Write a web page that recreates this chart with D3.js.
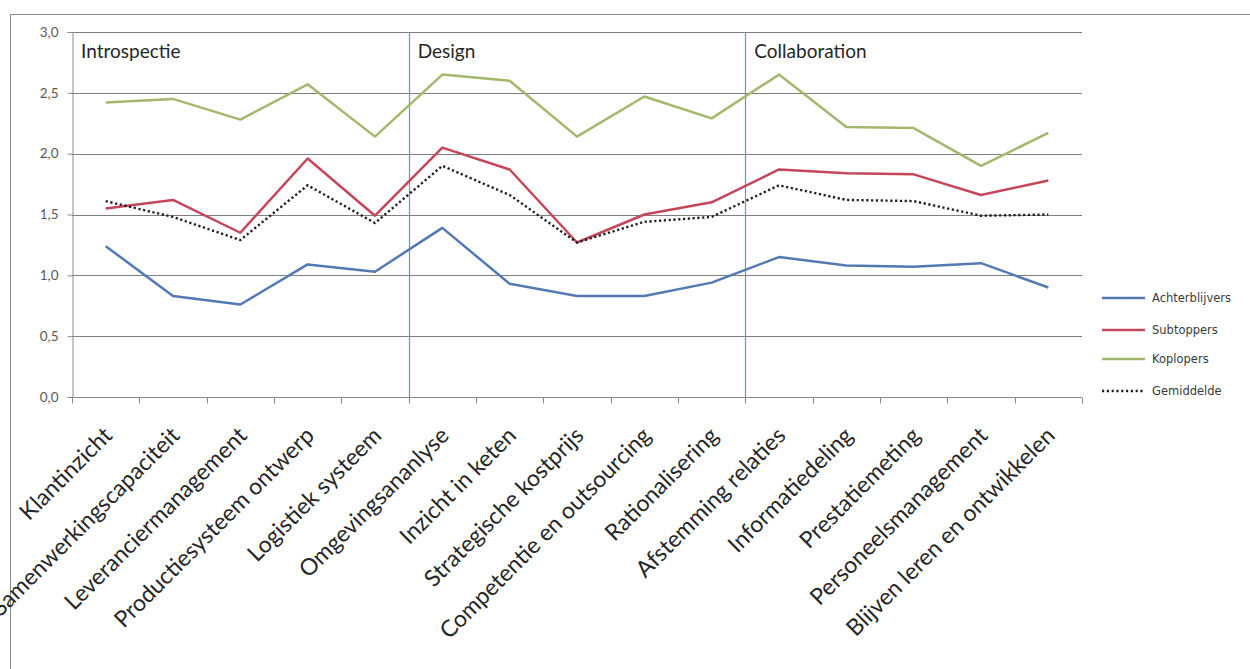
<!DOCTYPE html>
<html>
<head>
<meta charset="utf-8">
<script src="https://cdn.jsdelivr.net/npm/d3@7"></script>
<style>
  html, body { margin: 0; padding: 0; background: #fff; }
  svg { display: block; }
</style>
</head>
<body>
<script>
// Categories along the x axis
const categories = [
  "Klantinzicht", "Samenwerkingscapaciteit", "Leveranciermanagement",
  "Productiesysteem ontwerp", "Logistiek systeem", "Omgevingsananlyse",
  "Inzicht in keten", "Strategische kostprijs", "Competentie en outsourcing",
  "Rationalisering", "Afstemming relaties", "Informatiedeling",
  "Prestatiemeting", "Personeelsmanagement", "Blijven leren en ontwikkelen"
];

// Scores per group
const achterblijvers = [1.24, 0.83, 0.76, 1.09, 1.03, 1.39, 0.93, 0.83, 0.83, 0.94, 1.15, 1.08, 1.07, 1.10, 0.90];
const subtoppers     = [1.55, 1.62, 1.35, 1.96, 1.49, 2.05, 1.87, 1.27, 1.50, 1.60, 1.87, 1.84, 1.83, 1.66, 1.78];
const koplopers      = [2.42, 2.45, 2.28, 2.57, 2.14, 2.65, 2.60, 2.14, 2.47, 2.29, 2.65, 2.22, 2.21, 1.90, 2.17];
const gemiddelde     = [1.61, 1.48, 1.29, 1.74, 1.43, 1.90, 1.66, 1.27, 1.44, 1.48, 1.74, 1.62, 1.61, 1.49, 1.50];

const seriesNames = ["Achterblijvers", "Subtoppers", "Koplopers", "Gemiddelde"];
const yTicks = [0, 0.5, 1, 1.5, 2, 2.5, 3];

// Phase headers and the first category of each phase
const phaseNames = ["Introspectie", "Design", "Collaboration"];
const phaseStarts = ["Klantinzicht", "Omgevingsananlyse", "Afstemming relaties"];

const W = 1250, H = 669;
const plot = { left: 72, right: 1082, top: 32, bottom: 397 };

const svg = d3.select("body").append("svg")
  .attr("width", W).attr("height", H);

// Outer chart frame
svg.append("rect")
  .attr("x", 10.5).attr("y", 14.5)
  .attr("width", W + 20).attr("height", H + 20)
  .attr("fill", "none").attr("stroke", "#8a8a8a").attr("stroke-width", 1);

const x = d3.scaleBand().domain(categories).range([plot.left, plot.right]);
const y = d3.scaleLinear().domain([0, 3]).range([plot.bottom, plot.top]);
const cx = c => x(c) + x.bandwidth() / 2;

const nl = d3.formatLocale({ decimal: ",", thousands: ".", grouping: [3], currency: ["€", ""] });
const fmt = nl.format(".1f");

// Horizontal gridlines
svg.append("g")
  .selectAll("line")
  .data(yTicks.filter(t => t > 0))
  .join("line")
  .attr("x1", plot.left).attr("x2", plot.right)
  .attr("y1", d => Math.round(y(d)) + 0.5).attr("y2", d => Math.round(y(d)) + 0.5)
  .attr("stroke", "#7f7f7f").attr("stroke-width", 1);

// Y axis
const yAxis = svg.append("g")
  .attr("transform", `translate(${plot.left + 0.5},0)`)
  .call(d3.axisLeft(y).tickValues(yTicks).tickFormat(fmt).tickSize(5).tickPadding(9));
yAxis.select(".domain").attr("stroke", "#8a8a8a");
yAxis.selectAll(".tick line").attr("stroke", "#8a8a8a");
yAxis.selectAll(".tick text")
  .attr("fill", "#595959")
  .style("font-family", "Lato, 'Open Sans', sans-serif")
  .style("font-size", "13.5px");

// Phase separators
svg.append("g")
  .selectAll("line")
  .data(phaseStarts.slice(1))
  .join("line")
  .attr("x1", d => Math.round(x(d)) + 0.5).attr("x2", d => Math.round(x(d)) + 0.5)
  .attr("y1", y(3)).attr("y2", plot.bottom + 6)
  .attr("stroke", "#7b8bc4").attr("stroke-width", 1.2);

// X axis line and category boundary ticks
const xAxisG = svg.append("g").attr("transform", `translate(0,${plot.bottom + 0.5})`);
xAxisG.append("line")
  .attr("x1", plot.left).attr("x2", plot.right)
  .attr("stroke", "#8a8a8a");
xAxisG.selectAll("line.tk")
  .data(categories.map(c => x(c)).concat([x.range()[1]]))
  .join("line").attr("class", "tk")
  .attr("x1", d => Math.round(d) + 0.5).attr("x2", d => Math.round(d) + 0.5)
  .attr("y1", 0).attr("y2", 6)
  .attr("stroke", "#8a8a8a");

// Rotated category labels
svg.append("g")
  .selectAll("text")
  .data(categories)
  .join("text")
  .attr("transform", d => `translate(${cx(d) + 8},${plot.bottom + 40}) rotate(-45)`)
  .attr("text-anchor", "end")
  .attr("fill", "#262626")
  .style("font-family", "Lato, 'Open Sans', sans-serif")
  .style("font-size", "23px")
  .text(d => d);

// Phase headers
svg.append("g")
  .selectAll("text")
  .data(phaseNames)
  .join("text")
  .attr("x", (d, i) => x(phaseStarts[i]) + 9)
  .attr("y", 58)
  .attr("fill", "#262626")
  .style("font-family", "Lato, 'Open Sans', sans-serif")
  .style("font-size", "19px")
  .text(d => d);

// Series lines
const series = [
  { name: seriesNames[0], values: achterblijvers, color: "#5279b3", dash: null },
  { name: seriesNames[1], values: subtoppers, color: "#c4465a", dash: null },
  { name: seriesNames[2], values: koplopers, color: "#a3b86c", dash: null },
  { name: seriesNames[3], values: gemiddelde, color: "#1e1e1e", dash: "2.2,2.6" }
];

const line = d3.line()
  .x(d => cx(d.cat))
  .y(d => y(d.v));

svg.append("g")
  .selectAll("path")
  .data(series)
  .join("path")
  .attr("d", s => line(s.values.map((v, i) => ({ cat: categories[i], v }))))
  .attr("fill", "none")
  .attr("stroke", s => s.color)
  .attr("stroke-width", s => s.dash ? 2.4 : 2.5)
  .attr("stroke-dasharray", s => s.dash)
  .attr("stroke-linejoin", "round");

// Legend
const legendRows = [298, 330, 359, 391];
const lg = svg.append("g");
const item = lg.selectAll("g")
  .data(series)
  .join("g")
  .attr("transform", (d, i) => `translate(1102,${legendRows[i]})`);
item.append("line")
  .attr("x1", 0).attr("x2", 43)
  .attr("stroke", d => d.color)
  .attr("stroke-width", 2.4)
  .attr("stroke-dasharray", d => d.dash);
item.append("text")
  .attr("x", 50).attr("dy", "0.35em")
  .attr("fill", "#3a3a3a")
  .style("font-family", "'DejaVu Sans', sans-serif")
  .style("font-size", "11.5px")
  .text(d => d.name);
</script>
</body>
</html>
